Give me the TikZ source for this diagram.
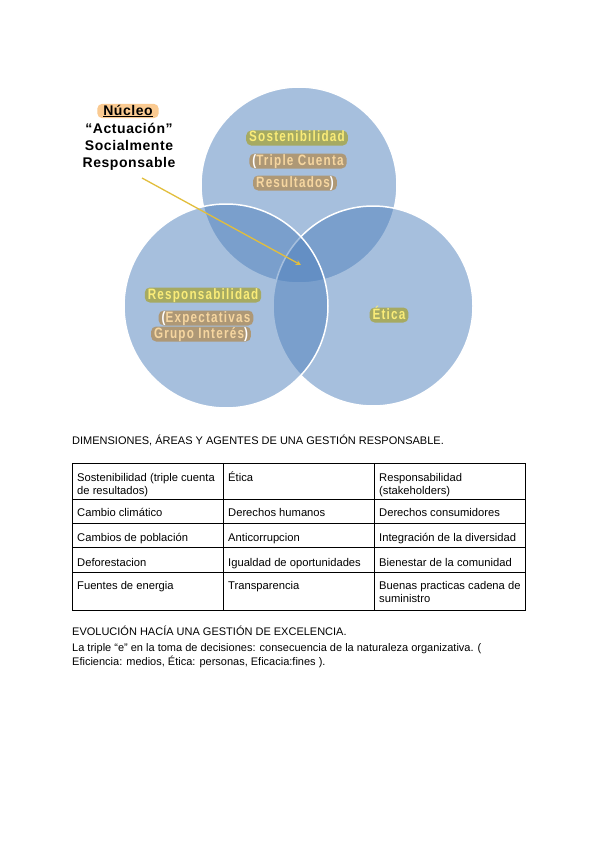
\documentclass[tikz,border=0pt]{standalone}
\usepackage{fontspec}
\setmainfont{Liberation Sans}
\newfontfamily\vennfont{Liberation Sans}[FakeStretch=0.78,LetterSpace=8]
\newfontfamily\corefont{Liberation Sans}[LetterSpace=4]
\definecolor{vennblue}{RGB}{79,129,189}
\definecolor{olivetag}{RGB}{166,170,98}
\definecolor{browntag}{RGB}{174,152,118}
\definecolor{yellowtxt}{RGB}{250,236,120}
\definecolor{peachtxt}{RGB}{246,214,160}
\definecolor{coretag}{RGB}{250,202,145}
\definecolor{arrowgold}{RGB}{226,190,60}

\begin{document}
\begin{tikzpicture}[
  x=1pt,y=-1pt,>=stealth,
  venn/.style={fill=vennblue,fill opacity=.5,draw=white,line width=1.5pt},
  tag/.style={rounded corners=5pt,inner xsep=3pt,inner ysep=1pt,
    font=\vennfont\bfseries\fontsize{15}{17}\selectfont,text height=10.5pt,text depth=2.5pt},
  maintag/.style={tag,fill=olivetag,text=yellowtxt},
  subtag/.style={tag,fill=browntag,text=peachtxt},
  core/.style={align=center,font=\corefont\bfseries\fontsize{14}{17}\selectfont},
  cell/.style={anchor=base west,align=left,inner sep=0pt,font=\fontsize{11.2}{13}\selectfont},
  caption/.style={anchor=base west,inner sep=0pt,font=\fontsize{11}{14}\selectfont}
]
  \fill[white] (0,0) rectangle (600,848);
  \useasboundingbox (0,0) rectangle (600,848);

  % three circles
  \path[venn] (299,185) circle[radius=98];
  \path[venn] (373,306) circle[radius=100];
  \path[venn] (226,306) circle[radius=102];

  \node[maintag] (sost) at (297,138) {Sostenibilidad};
  \node[subtag] (trip) at (298,161) {\textcolor{white}{(}Triple Cuenta};
  \node[subtag] (resu) at (295,183) {Resultados\textcolor{white}{)}};
  \node[maintag] (resp) at (203,295) {Responsabilidad};
  \node[subtag] (expe) at (206,318) {\textcolor{white}{(}Expectativas};
  \node[subtag] (grup) at (201,334) {Grupo Interés\textcolor{white}{)}};
  \node[maintag] (etica) at (389,315) {Ética};

  % core label and arrow
  \node[core,fill=coretag,rounded corners=5pt,inner xsep=6pt,inner ysep=1pt] (nucleo) at (128,111) {\underline{Núcleo}};
  \node[core,anchor=north] (actua) at (129,120) {“Actuación”\\Socialmente\\Responsable};
  \coordinate (tail) at (142,178);
  \coordinate (hub) at (301,265);
  \draw[->,arrowgold,line width=1.3pt] (tail) -- (hub);

  % table
  \node[caption] (dims) at (72,444) {DIMENSIONES, ÁREAS Y AGENTES DE UNA GESTIÓN RESPONSABLE.};
  \draw[line width=.9pt] (72,463) rectangle (525,610);
  \foreach \y in {499,523,547,572} \draw[line width=.9pt] (72,\y) -- (525,\y);
  \foreach \x in {223,374} \draw[line width=.9pt] (\x,463) -- (\x,610);

  \node[cell] (c11) at (77,494) {Sostenibilidad (triple cuenta\\de resultados)};
  \node[cell] (c12) at (228,481) {Ética};
  \node[cell] (c13) at (379,494) {Responsabilidad\\(stakeholders)};
  \node[cell] (c21) at (77,516) {Cambio climático};
  \node[cell] (c22) at (228,516) {Derechos humanos};
  \node[cell] (c23) at (379,516) {Derechos consumidores};
  \node[cell] (c31) at (77,541) {Cambios de población};
  \node[cell] (c32) at (228,541) {Anticorrupcion};
  \node[cell] (c33) at (379,541) {Integración de la diversidad};
  \node[cell] (c41) at (77,566) {Deforestacion};
  \node[cell] (c42) at (228,566) {Igualdad de oportunidades};
  \node[cell] (c43) at (379,566) {Bienestar de la comunidad};
  \node[cell] (c51) at (77,589) {Fuentes de energia};
  \node[cell] (c52) at (228,589) {Transparencia};
  \node[cell] (c53) at (379,602) {Buenas practicas cadena de\\suministro};

  \node[caption] (evol) at (72,635) {EVOLUCIÓN HACÍA UNA GESTIÓN DE EXCELENCIA.};
  \node[caption] (line1) at (72,651) {La triple “e” en la toma de decisiones: consecuencia de la naturaleza organizativa. (};
  \node[caption] (line2) at (72,665) {Eficiencia: medios, Ética: personas, Eficacia:fines ).};
\end{tikzpicture}
\end{document}
